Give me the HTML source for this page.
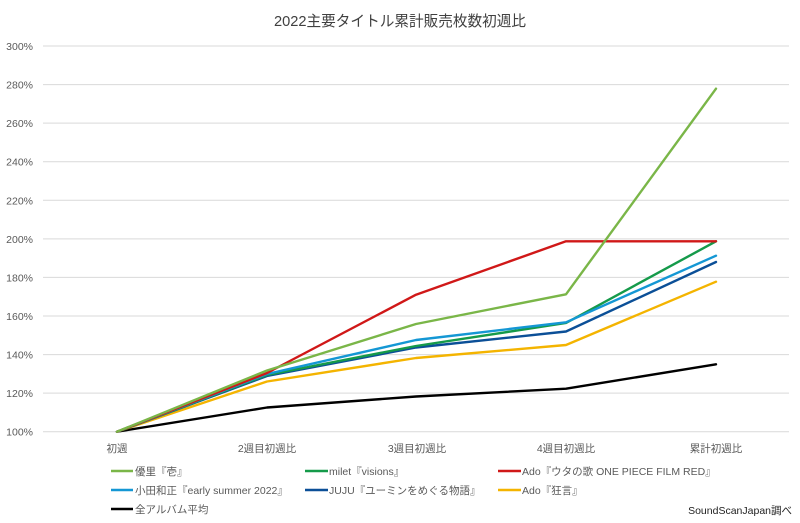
<!DOCTYPE html>
<html><head><meta charset="utf-8">
<style>
html,body{margin:0;padding:0;background:#fff;}
svg{display:block;}
text{font-family:"Liberation Sans","Noto Sans CJK JP",sans-serif;}
</style></head>
<body>
<svg width="800" height="523" viewBox="0 0 800 523" xmlns="http://www.w3.org/2000/svg">
<rect width="800" height="523" fill="#fff"/>
<text x="400" y="26" text-anchor="middle" font-size="15" fill="#404040" textLength="252" lengthAdjust="spacingAndGlyphs">2022主要タイトル累計販売枚数初週比</text>
<g stroke="#d9d9d9" stroke-width="1">
<line x1="43" y1="46" x2="789" y2="46"/>
<line x1="43" y1="84.6" x2="789" y2="84.6"/>
<line x1="43" y1="123.1" x2="789" y2="123.1"/>
<line x1="43" y1="161.7" x2="789" y2="161.7"/>
<line x1="43" y1="200.3" x2="789" y2="200.3"/>
<line x1="43" y1="238.9" x2="789" y2="238.9"/>
<line x1="43" y1="277.4" x2="789" y2="277.4"/>
<line x1="43" y1="316" x2="789" y2="316"/>
<line x1="43" y1="354.6" x2="789" y2="354.6"/>
<line x1="43" y1="393.1" x2="789" y2="393.1"/>
<line x1="43" y1="431.7" x2="789" y2="431.7"/>
</g>
<g font-size="10.5" fill="#595959" text-anchor="end">
<text x="33" y="50">300%</text>
<text x="33" y="88.6">280%</text>
<text x="33" y="127.1">260%</text>
<text x="33" y="165.7">240%</text>
<text x="33" y="204.3">220%</text>
<text x="33" y="242.9">200%</text>
<text x="33" y="281.4">180%</text>
<text x="33" y="320">160%</text>
<text x="33" y="358.6">140%</text>
<text x="33" y="397.1">120%</text>
<text x="33" y="435.7">100%</text>
</g>
<g font-size="10.5" fill="#595959" text-anchor="middle">
<text x="117" y="452">初週</text>
<text x="267" y="452">2週目初週比</text>
<text x="417" y="452">3週目初週比</text>
<text x="566" y="452">4週目初週比</text>
<text x="716" y="452">累計初週比</text>
</g>
<g fill="none" stroke-width="2.4" stroke-linejoin="round" stroke-linecap="round">
<polyline stroke="#000000" points="117,431.7 267,407.5 416,396.5 566,388.7 716,364.3"/>
<polyline stroke="#f4b400" points="117,431.7 267,381.5 416,358 566,345 716,281.7"/>
<polyline stroke="#0b4f97" points="117,431.7 267,376 416,347.5 566,331.5 716,262"/>
<polyline stroke="#159a4a" points="117,431.7 267,375 416,346 566,323 716,241.3"/>
<polyline stroke="#1497d4" points="117,431.7 267,374 416,340 566,322.3 716,255.7"/>
<polyline stroke="#d01818" points="117,431.7 267,373 416,294.7 566,241.3 716,241.3"/>
<polyline stroke="#7ab648" points="117,431.7 267,370.5 416,324 566,294.3 716,88.7"/>
</g>
<g stroke-width="2.6">
<line x1="111" y1="471" x2="133" y2="471" stroke="#7ab648"/>
<line x1="305" y1="471" x2="328" y2="471" stroke="#159a4a"/>
<line x1="498" y1="471" x2="521" y2="471" stroke="#d01818"/>
<line x1="111" y1="490" x2="133" y2="490" stroke="#1497d4"/>
<line x1="305" y1="490" x2="328" y2="490" stroke="#0b4f97"/>
<line x1="498" y1="490" x2="521" y2="490" stroke="#f4b400"/>
<line x1="111" y1="509" x2="133" y2="509" stroke="#000000"/>
</g>
<g font-size="10.5" fill="#595959">
<text x="135" y="475">優里『壱』</text>
<text x="329" y="475">milet『visions』</text>
<text x="522" y="475">Ado『ウタの歌 ONE PIECE FILM RED』</text>
<text x="135" y="494">小田和正『early summer 2022』</text>
<text x="329" y="494">JUJU『ユーミンをめぐる物語』</text>
<text x="522" y="494">Ado『狂言』</text>
<text x="135" y="513">全アルバム平均</text>
</g>
<text x="792" y="514" text-anchor="end" font-size="10.5" fill="#222">SoundScanJapan調べ</text>
</svg>
</body></html>
